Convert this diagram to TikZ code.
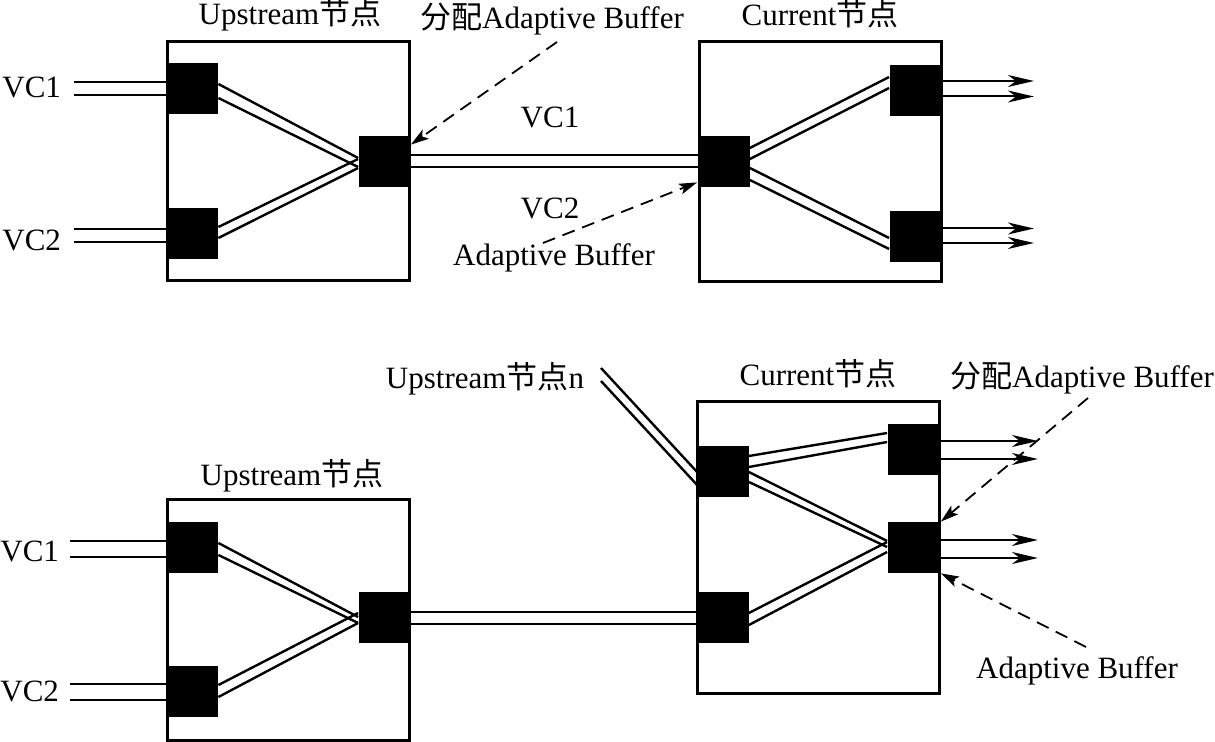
\documentclass[tikz,border=0pt]{standalone}
\usepackage{fontspec}
\setmainfont{Liberation Serif}
\newfontfamily\cjk{Noto Sans CJK SC}
\usetikzlibrary{arrows.meta,calc}
\begin{document}
\begin{tikzpicture}[x=0.5pt,y=-0.5pt,
  blk/.style={fill=black,draw=none,inner sep=0pt,minimum size=25.5pt},
  box/.style={draw,line width=1.5pt,inner sep=0pt,fill=none},
  wire/.style={line width=1.2pt},
  dbl/.style={double,line width=1pt,double distance=#1},
  dbl/.default=5.4pt,
  outarr/.style={line width=1pt,-{Stealth[length=13pt,width=6pt,inset=4pt]}},
  dasharr/.style={line width=0.9pt,dash pattern=on 6.5pt off 4pt,-{Stealth[length=9pt,width=5.5pt,inset=2pt]}},
  lbl/.style={font=\fontsize{15.5pt}{18pt}\selectfont,inner sep=0pt,anchor=base}]
\useasboundingbox (0,0) rectangle (1215,742);

% ---------------- top diagram ----------------
\node[blk] (in1) at (192.5,88.5) {};
\node[blk] (in2) at (192.5,233.5) {};
\node[blk] (uout) at (384,161.5) {};
\node[blk] (cin) at (724,161.5) {};
\node[blk] (cout1) at (915,90.5) {};
\node[blk] (cout2) at (915,236.5) {};

\coordinate (v1a) at (74,88.5);
\coordinate (v2a) at (74,235.5);
\draw[dbl] (v1a) -- (v1a -| in1.west);
\draw[dbl] (v2a) -- (v2a -| in2.west);
\draw[dbl=5pt] (uout) -- (cin);

\draw[wire] ($(in1.east)+(0,-4.5)$) -- ($(uout.west)+(0,-3.5)$);
\draw[wire] ($(in1.east)+(0,9.5)$) -- ($(uout.west)+(0,5.5)$);
\draw[wire] ($(in2.east)+(0,-6.5)$) -- ($(uout.west)+(0,-2.5)$);
\draw[wire] ($(in2.east)+(0,4.5)$) -- ($(uout.west)+(0,6.5)$);

\draw[wire] ($(cin.east)+(0,-13.5)$) -- ($(cout1.west)+(0,-13.5)$);
\draw[wire] ($(cin.east)+(0,-2.5)$) -- ($(cout1.west)+(0,-2.5)$);
\draw[wire] ($(cin.east)+(0,6.5)$) -- ($(cout2.west)+(0,1.5)$);
\draw[wire] ($(cin.east)+(0,18.5)$) -- ($(cout2.west)+(0,12.5)$);

\draw[outarr] ($(cout1.east)+(0,-9.5)$) -- ++(93,0);
\draw[outarr] ($(cout1.east)+(0,6)$) -- ++(93,0);
\draw[outarr] ($(cout2.east)+(0,-8)$) -- ++(93,0);
\draw[outarr] ($(cout2.east)+(0,6.5)$) -- ++(93,0);

\node[box,minimum width=121pt,minimum height=119.5pt] (ubox) at (288,161.5) {};
\node[box,minimum width=121pt,minimum height=120pt] (cbox) at (820,162) {};

\node[lbl] (tup1) at (290,25) {Upstream{\cjk 节点}};
\node[lbl] (tcur1) at (820,26) {Current{\cjk 节点}};
\node[lbl] (talloc1) at (552,29) {{\cjk 分配}Adaptive Buffer};
\node[lbl,anchor=base west] (tvc1a) at (2,98) {VC1};
\node[lbl,anchor=base west] (tvc2a) at (2,251) {VC2};
\node[lbl] (tvc1m) at (550,128) {VC1};
\node[lbl] (tvc2m) at (550,219) {VC2};
\node[lbl] (tab1) at (554,266) {Adaptive Buffer};

\coordinate (d1s) at (557,42);
\coordinate (d2s) at (543,243);
\draw[dasharr] (d1s) -- ($(uout.north east)+(1,9)$);
\draw[dasharr] (d2s) -- ($(cin.south west)+(-1,-5)$);

% ---------------- bottom diagram ----------------
\node[blk] (in1b) at (192.5,548) {};
\node[blk] (in2b) at (192.5,691.5) {};
\node[blk] (uout2) at (384,617.5) {};
\node[blk] (cn) at (723,471.5) {};
\node[blk] (cl) at (723,617.5) {};
\node[blk] (co1) at (913,449.5) {};
\node[blk] (co2) at (913,547.5) {};

\coordinate (v1b) at (70,549);
\coordinate (v2b) at (70,691.5);
\draw[dbl=7pt] (v1b) -- (v1b -| in1b.west);
\draw[dbl=7pt] (v2b) -- (v2b -| in2b.west);
\draw[dbl=5pt] (uout2) -- (cl);

\draw[wire] ($(in1b.east)+(0,-5)$) -- ($(uout2.west)+(0,-0.5)$);
\draw[wire] ($(in1b.east)+(0,7)$) -- ($(uout2.west)+(0,5.5)$);
\draw[wire] ($(in2b.east)+(0,-6.5)$) -- ($(uout2.west)+(0,-4.5)$);
\draw[wire] ($(in2b.east)+(0,5.5)$) -- ($(uout2.west)+(0,5.5)$);

\coordinate (una) at (601,368);
\coordinate (unb) at (601,381);
\draw[wire] (una) -- ($(cn.west)+(0,0.5)$);
\draw[wire] (unb) -- ($(cn.west)+(0,13.5)$);

\draw[wire] ($(cn.east)+(0,-15.5)$) -- ($(co1.west)+(0,-16.5)$);
\draw[wire] ($(cn.east)+(0,-4.5)$) -- ($(co1.west)+(0,-7.5)$);
\draw[wire] ($(cn.east)+(0,0.5)$) -- ($(co2.west)+(0,-6.5)$);
\draw[wire] ($(cn.east)+(0,10.5)$) -- ($(co2.west)+(0,-0.5)$);
\draw[wire] ($(cl.east)+(0,-4.5)$) -- ($(co2.west)+(0,-5.5)$);
\draw[wire] ($(cl.east)+(0,7.5)$) -- ($(co2.west)+(0,4.5)$);

\draw[outarr] ($(co1.east)+(0,-8.5)$) -- ++(99,0);
\draw[outarr] ($(co1.east)+(0,9.5)$) -- ++(99,0);
\draw[outarr] ($(co2.east)+(0,-7.5)$) -- ++(99,0);
\draw[outarr] ($(co2.east)+(0,10.5)$) -- ++(99,0);

\node[box,minimum width=121pt,minimum height=120pt] (ubox2) at (288,620) {};
\node[box,minimum width=121pt,minimum height=145.5pt] (cbox2) at (818,547.5) {};

\node[lbl] (tupn) at (485,389) {Upstream{\cjk 节点}n};
\node[lbl] (tup2) at (292,486) {Upstream{\cjk 节点}};
\node[lbl,anchor=base west] (tvc1b) at (0,561) {VC1};
\node[lbl,anchor=base west] (tvc2b) at (0,701) {VC2};
\node[lbl] (tcur2) at (818,386) {Current{\cjk 节点}};
\node[lbl] (talloc2) at (1082,388) {{\cjk 分配}Adaptive Buffer};
\node[lbl] (tab2) at (1077,678) {Adaptive Buffer};

\coordinate (d3s) at (1088,398);
\coordinate (d4s) at (1086,647);
\draw[dasharr] (d3s) -- ($(co2.north east)+(2,0)$);
\draw[dasharr] (d4s) -- ($(co2.south east)+(2,0)$);
\end{tikzpicture}
\end{document}
